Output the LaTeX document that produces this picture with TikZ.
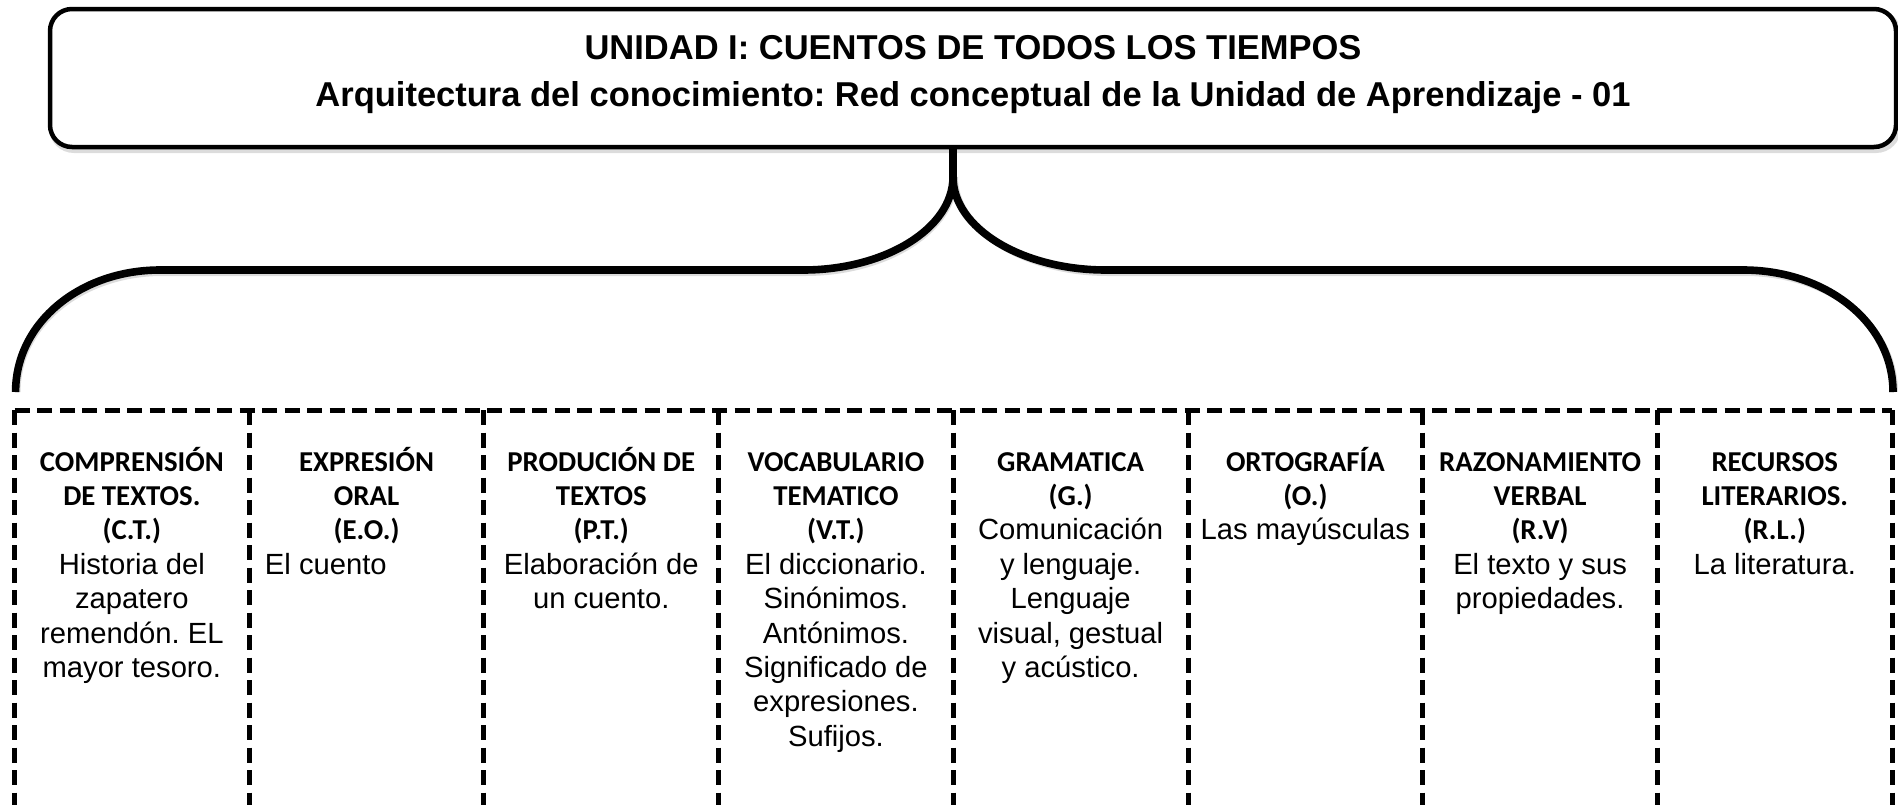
\documentclass[tikz,border=0pt]{standalone}
\usepackage{fontspec}
\setmainfont{Liberation Sans}
\newfontfamily\hfont{Carlito}
\frenchspacing
\newcommand\headf{\hfont\bfseries\fontsize{14.4}{17.2}\selectfont}
\newcommand\bodyf{\normalfont\fontsize{14.6}{17.2}\selectfont}
\newcommand\colvtop[1]{\vtop{\hsize=114pt\parindent=0pt\centering #1\par}}
\newcommand\titlevtop[1]{\vtop{\hsize=900pt\parindent=0pt\centering\bfseries\fontsize{17.25}{23.5}\selectfont #1\par}}
\begin{document}
\begin{tikzpicture}[x=0.5pt,y=-0.5pt,
  hdrbox/.style={draw, line width=2.25pt, rounded corners=11pt, minimum width=923pt, minimum height=69pt, inner sep=0pt, outer sep=0pt},
  brace/.style={line width=3.8pt},
  shadow/.style={draw=black!30, opacity=0.45, line width=3pt},
  gridline/.style={line width=2.5pt, dash pattern=on 7.5pt off 3.75pt},
  coltext/.style={anchor=base, inner sep=0pt, outer sep=0pt},
]
\useasboundingbox (0,0) rectangle (1898,804);
\clip (0,0) rectangle (1898,804);

% shadows (subtle)
\draw[shadow, rounded corners=11pt] (52,12) rectangle (1898,150);
\draw[shadow] (955,177) .. controls (955,229.7) and (887.8,273) .. (805,273) -- (162,273) .. controls (82.3,273) and (17.6,324.2) .. (17.6,392);
\draw[shadow] (955,177) .. controls (955,229.7) and (1023.5,273) .. (1108,273) -- (1745,273) .. controls (1827.8,273) and (1895,324.2) .. (1895,392);

% header
\node[hdrbox, fill=white] (hdr) at (973,78) {};
\node[coltext] (title) at (973,59.3) {\titlevtop{UNIDAD I: CUENTOS DE TODOS LOS TIEMPOS\\Arquitectura del conocimiento: Red conceptual de la Unidad de Aprendizaje - 01}};

% brace
\coordinate (stem) at (953,147);
\coordinate (lend) at (15.6,392);
\coordinate (rend) at (1893,392);
\draw[brace] (stem) -- (953,177) .. controls (953,228) and (885.8,270) .. (803,270) -- (160,270) .. controls (80.3,270) and (15.6,322.5) .. (lend);
\draw[brace] (stem) -- (953,177) .. controls (953,228) and (1021.5,270) .. (1106,270) -- (1743,270) .. controls (1825.8,270) and (1893,322.5) .. (rend);

% dashed frames
\draw[gridline] (14.5,410) -- (1892.1,410);
\foreach \x in {14.5,249.2,483.9,718.6,953.3,1188,1422.7,1657.4,1892.1}
  \draw[gridline] (\x,410) -- (\x,820);

% columns
\node[coltext] (c1) at (131.85,471) {\colvtop{\headf COMPRENSIÓN\\DE TEXTOS.\\(C.T.)\\\bodyf Historia del\\zapatero\\remendón. EL\\mayor tesoro.}};
\node[coltext] (c2) at (366.55,471) {\colvtop{\headf EXPRESIÓN\\ORAL\\(E.O.)\\\bodyf\makebox[\hsize][l]{\hspace{6.2pt}El cuento}}};
\node[coltext] (c3) at (601.25,471) {\colvtop{\headf PRODUCIÓN DE\\TEXTOS\\(P.T.)\\\bodyf Elaboración de\\un cuento.}};
\node[coltext] (c4) at (835.95,471) {\colvtop{\headf VOCABULARIO\\TEMATICO\\(V.T.)\\\bodyf El diccionario.\\Sinónimos.\\Antónimos.\\Significado de\\expresiones.\\Sufijos.}};
\node[coltext] (c5) at (1070.65,471) {\colvtop{\headf GRAMATICA\\(G.)\\\bodyf Comunicación\\y lenguaje.\\Lenguaje\\visual, gestual\\y acústico.}};
\node[coltext] (c6) at (1305.35,471) {\colvtop{\headf ORTOGRAFÍA\\(O.)\\\bodyf Las mayúsculas}};
\node[coltext] (c7) at (1540.05,471) {\colvtop{\headf RAZONAMIENTO\\VERBAL\\(R.V)\\\bodyf El texto y sus\\propiedades.}};
\node[coltext] (c8) at (1774.75,471) {\colvtop{\headf RECURSOS\\LITERARIOS.\\(R.L.)\\\bodyf La literatura.}};
\end{tikzpicture}
\end{document}
